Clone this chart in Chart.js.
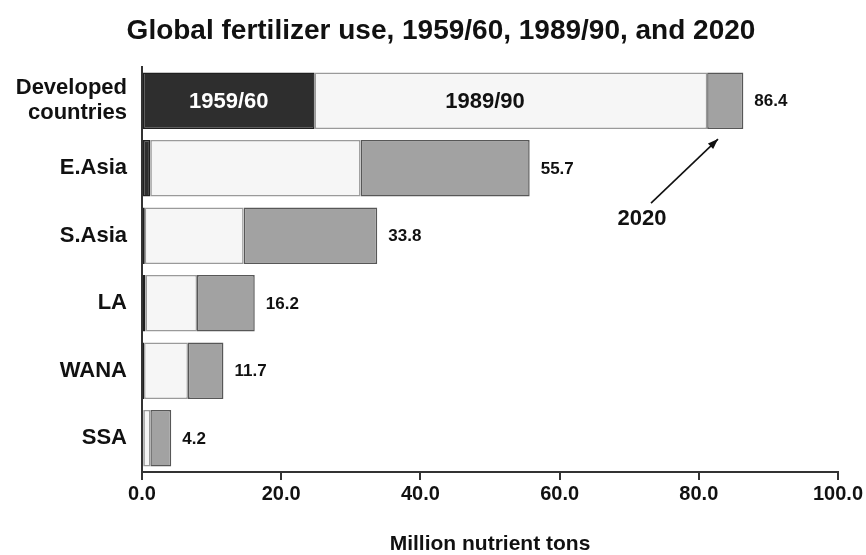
<!DOCTYPE html>
<html>
<head>
<meta charset="utf-8">
<script src="https://cdn.jsdelivr.net/npm/chart.js@4.4.1/dist/chart.umd.min.js"></script>
<style>
  html, body { margin: 0; padding: 0; background: #ffffff; }
  canvas { display: block; }
</style>
</head>
<body>
<canvas id="c" width="866" height="555"></canvas>
<script>
// ---- data ----
const categories = [['Developed', 'countries'], 'E.Asia', 'S.Asia', 'LA', 'WANA', 'SSA'];
const seriesNames = ['1959/60', '1989/90', '2020'];
const use1959 = [24.8, 1.2, 0.4, 0.5, 0.3, 0.2];      // 1959/60 use
const add1989 = [56.4, 30.2, 14.2, 7.4, 6.3, 1.0];    // increase to 1989/90
const add2020 = [5.2, 24.3, 19.2, 8.3, 5.1, 3.0];     // increase to 2020
const xTicks = [0, 20, 40, 60, 80, 100];
const xTickLabels = ['0.0', '20.0', '40.0', '60.0', '80.0', '100.0'];
const chartTitle = 'Global fertilizer use, 1959/60, 1989/90, and 2020';
const xTitle = 'Million nutrient tons';

const FONT = "'Liberation Sans', Arial, Helvetica, sans-serif";
const totals = categories.map((_, i) => use1959[i] + add1989[i] + add2020[i]);

const annotations = {
  id: 'annotations',
  afterDatasetsDraw(chart) {
    const ctx = chart.ctx;
    const xs = chart.scales.x, ys = chart.scales.y;
    ctx.save();
    // chart title
    ctx.font = 'bold 28px ' + FONT;
    ctx.fillStyle = '#111';
    ctx.textAlign = 'center';
    ctx.textBaseline = 'middle';
    ctx.fillText(chartTitle, 441, 31);
    // total labels
    ctx.font = 'bold 17px ' + FONT;
    ctx.textAlign = 'left';
    totals.forEach((t, i) => {
      ctx.fillText(t.toFixed(1), xs.getPixelForValue(t) + 11, ys.getPixelForValue(i) + 1);
    });
    // in-bar series labels on the first category
    const m0 = chart.getDatasetMeta(0).data[0];
    const m1 = chart.getDatasetMeta(1).data[0];
    const m2 = chart.getDatasetMeta(2).data[0];
    ctx.font = 'bold 22px ' + FONT;
    ctx.textAlign = 'center';
    ctx.fillStyle = '#ffffff';
    ctx.fillText(seriesNames[0], (m0.x + m0.base) / 2, m0.y + 1);
    ctx.fillStyle = '#111';
    ctx.fillText(seriesNames[1], m1.base + (m1.x - m1.base) * 0.434, m1.y + 1);
    // 2020 arrow annotation
    const tipX = m2.base + (m2.x - m2.base) * 0.3;
    const tipY = m2.y + m2.height / 2 + 10;
    const tailX = tipX - 67, tailY = tipY + 64;
    ctx.strokeStyle = '#111';
    ctx.lineWidth = 1.6;
    ctx.beginPath();
    ctx.moveTo(tailX, tailY);
    ctx.lineTo(tipX, tipY);
    ctx.stroke();
    const ang = Math.atan2(tipY - tailY, tipX - tailX);
    ctx.beginPath();
    ctx.moveTo(tipX, tipY);
    ctx.lineTo(tipX - 11 * Math.cos(ang - 0.35), tipY - 11 * Math.sin(ang - 0.35));
    ctx.lineTo(tipX - 11 * Math.cos(ang + 0.35), tipY - 11 * Math.sin(ang + 0.35));
    ctx.closePath();
    ctx.fill();
    ctx.font = 'bold 22px ' + FONT;
    ctx.fillText(seriesNames[2], tailX - 9, tailY + 16);
    ctx.restore();
  }
};

new Chart(document.getElementById('c'), {
  type: 'bar',
  data: {
    labels: categories,
    datasets: [
      { label: seriesNames[0], data: use1959, backgroundColor: '#2e2e2e', borderColor: '#1f1f1f' },
      { label: seriesNames[1], data: add1989, backgroundColor: '#f6f6f6', borderColor: '#9a9a9a' },
      { label: seriesNames[2], data: add2020, backgroundColor: '#a2a2a2', borderColor: '#575757' }
    ]
  },
  options: {
    indexAxis: 'y',
    responsive: false,
    animation: false,
    devicePixelRatio: 1,
    datasets: {
      bar: { categoryPercentage: 0.84, barPercentage: 1.0, borderWidth: 1.5, borderSkipped: false }
    },
    layout: { padding: { left: 0, right: 28, top: 67, bottom: 0 } },
    plugins: {
      legend: { display: false },
      tooltip: { enabled: false },
      title: { display: false }
    },
    scales: {
      x: {
        stacked: true,
        min: 0,
        max: 100,
        afterBuildTicks: s => { s.ticks = xTicks.map(v => ({ value: v })); },
        ticks: {
          callback: (v, i) => xTickLabels[i],
          color: '#111',
          font: { family: FONT, size: 20, weight: 'bold' },
          padding: 2,
          maxRotation: 0,
          autoSkip: false
        },
        grid: { drawOnChartArea: false, drawTicks: true, tickLength: 8, color: '#333', lineWidth: 2 },
        border: { display: true, color: '#333', width: 2 },
        title: {
          display: true,
          text: xTitle,
          color: '#111',
          font: { family: FONT, size: 21, weight: 'bold', lineHeight: 1.0 },
          padding: { top: 0, bottom: 0 }
        },
        afterFit: s => { s.height = 83; }
      },
      y: {
        stacked: true,
        ticks: {
          color: '#111',
          font: { family: FONT, size: 22, weight: 'bold', lineHeight: 1.15 },
          padding: 15
        },
        grid: { display: false, drawTicks: false },
        border: { display: true, color: '#333', width: 2 },
        afterFit: s => { s.width = 142; }
      }
    }
  },
  plugins: [annotations]
});
</script>
</body>
</html>
